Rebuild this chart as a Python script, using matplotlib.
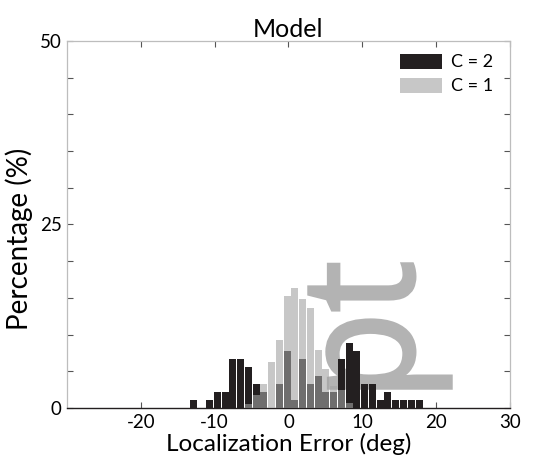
import matplotlib.pyplot as plt
from matplotlib.textpath import TextPath
from matplotlib.patches import PathPatch
from matplotlib.font_manager import FontProperties
from matplotlib.transforms import Affine2D

plt.rcParams['font.family'] = ['Lato', 'DejaVu Sans']
plt.rcParams['axes.unicode_minus'] = False

# bin centres (deg) and percentages
centres = [-12.81, -11.76, -10.71, -9.65, -8.60, -7.55, -6.50, -5.45, -4.40, -3.34,
           -2.29, -1.24, -0.19, 0.86, 1.91, 2.96, 4.02, 5.07, 6.12, 7.17,
           8.22, 9.27, 10.33, 11.38, 12.43, 13.48, 14.53, 15.58, 16.64, 17.69]
c2 = [1.1, 0, 1.1, 2.2, 2.2, 6.7, 6.7, 5.6, 3.3, 2.2,
      0, 3.3, 7.8, 1.1, 6.7, 3.3, 4.4, 2.2, 2.2, 6.7,
      8.9, 7.8, 3.3, 3.3, 1.1, 2.2, 1.1, 1.1, 1.1, 1.1]
c1 = [0, 0, 0, 0, 0, 0, 0, 0.56, 1.8, 3.3,
      6.3, 9.2, 15.2, 16.3, 14.8, 13.6, 7.9, 5.3, 3.0, 2.5,
      0.7, 0, 0, 0, 0, 0, 0, 0, 0, 0]

fig = plt.figure(figsize=(5.5, 4.66), dpi=100)
ax = fig.add_axes([0.122, 0.1245, 0.805, 0.7875])

# grey "pt" watermark from the source image, placed in pixel units
tp = TextPath((0, 0), 'pt', size=100, prop=FontProperties(family='Open Sans'))
ext = tp.get_extents()
tr = (Affine2D().translate(-ext.x0, -ext.y0).scale(124 / ext.width, 142 / ext.height)
      .rotate_deg(90).translate(451, 78).scale(0.01) + fig.dpi_scale_trans)
wm = PathPatch(tp, facecolor='#b3b3b3', edgecolor='#b3b3b3', linewidth=2.5,
               transform=tr, zorder=1)
ax.add_artist(wm)
wm.set_clip_on(False)

ax.bar(centres, c2, width=0.95, color='#231f20', label='C = 2', zorder=2)
ax.bar(centres, c1, width=0.95, color='#a3a3a3', alpha=0.6, label='C = 1', zorder=3)

ax.set_xlim(-30, 30)
ax.set_ylim(0, 50)
ax.set_xticks([-20, -10, 0, 10, 20, 30])
ax.set_yticks(range(0, 51, 5))
ax.set_yticklabels([str(v) if v in (0, 25, 50) else '' for v in range(0, 51, 5)])
ax.tick_params(direction='in', length=4, width=0.8, color='#555555',
               top=True, right=True, labelsize=13.5, pad=4)
ax.patch.set_alpha(0)

for s in ['left', 'top', 'right']:
    ax.spines[s].set_color('#bdbdbd')
    ax.spines[s].set_linewidth(0.9)
ax.spines['bottom'].set_color('#231f20')
ax.spines['bottom'].set_linewidth(1.0)

ax.set_title('Model', fontsize=18, pad=3)
ax.set_xlabel('Localization Error (deg)', fontsize=17.5, labelpad=2)
ax.set_ylabel('Percentage (%)', fontsize=20)
ax.yaxis.set_label_coords(-0.078, 0.46)

ax.legend(loc='upper right', bbox_to_anchor=(0.99, 1.0), frameon=False, fontsize=13,
          handlelength=2.3, handleheight=0.9, borderaxespad=0.3, labelspacing=0.4,
          handletextpad=0.5)

fig.savefig('out.png', dpi=100)
